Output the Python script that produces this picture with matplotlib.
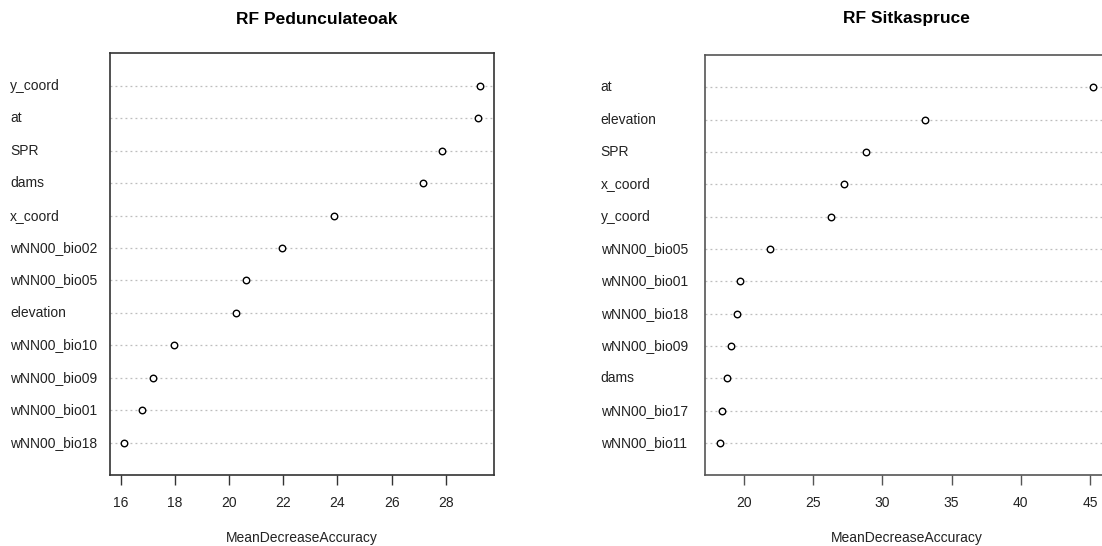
import matplotlib
matplotlib.use("Agg")
import matplotlib.pyplot as plt
from matplotlib.transforms import blended_transform_factory

plt.rcParams['font.family'] = ['Liberation Sans', 'DejaVu Sans']

# Left panel: RF Pedunculateoak (top to bottom)
oak_labels = ["y_coord", "at", "SPR", "dams", "x_coord", "wNN00_bio02",
              "wNN00_bio05", "elevation", "wNN00_bio10", "wNN00_bio09",
              "wNN00_bio01", "wNN00_bio18"]
oak_values = [29.26, 29.18, 27.85, 27.17, 23.86, 21.96,
              20.63, 20.25, 17.95, 17.19, 16.76, 16.12]
oak_ticks = [16, 18, 20, 22, 24, 26, 28]

# Right panel: RF Sitkaspruce (top to bottom)
sitka_labels = ["at", "elevation", "SPR", "x_coord", "y_coord", "wNN00_bio05",
                "wNN00_bio01", "wNN00_bio18", "wNN00_bio09", "dams",
                "wNN00_bio17", "wNN00_bio11"]
sitka_values = [45.24, 33.09, 28.81, 27.24, 26.28, 21.90,
                19.73, 19.47, 19.03, 18.74, 18.41, 18.24]
sitka_ticks = [20, 25, 30, 35, 40, 45]

xlabel = "MeanDecreaseAccuracy"

W, H = 1102, 546
fig = plt.figure(figsize=(W / 100, H / 100), dpi=100)


def dotchart(rect, labels, values, ticks, title, title_x, label_x, spine_color):
    ax = fig.add_axes(rect)
    n = len(values)
    ys = list(range(n, 0, -1))
    for y in ys:
        ax.axhline(y, color='#bdbdbd', lw=0.9, ls=(0, (1.5, 2.5)), zorder=1)
    ax.scatter(values, ys, s=22, facecolors='white', edgecolors='black',
               linewidths=1.0, zorder=3)
    lo, hi = min(values), max(values)
    pad = (hi - lo) * 0.04
    ax.set_xlim(lo - pad, hi + pad)
    ax.set_ylim(0, n + 1)
    ax.set_yticks([])
    ax.set_xticks(ticks)
    ax.set_xticklabels([str(t) for t in ticks])
    ax.tick_params(axis='x', length=7, width=1.0, color=spine_color,
                   labelsize=10, pad=8, labelcolor='#222222')
    for s in ax.spines.values():
        s.set_color(spine_color)
        s.set_linewidth(1.2)
    ax.set_xlabel(xlabel, fontsize=10, labelpad=15, color='#222222')
    trans = blended_transform_factory(fig.transFigure, ax.transData)
    for y, lab in zip(ys, labels):
        ax.text(label_x / W, y, lab, transform=trans,
                ha='left', va='center', fontsize=10, color='#222222')
    fig.text(title_x / W, 1 - 19 / H, title, ha='center', va='center',
             fontsize=12.5, fontweight='bold')
    return ax


dotchart([110 / W, 1 - 475.2 / H, 384 / W, 421.9 / H], oak_labels, oak_values,
         oak_ticks, "RF Pedunculateoak", 317, 10, '#333333')
dotchart([704.7 / W, 1 - 475.3 / H, 403.6 / W, 420.3 / H], sitka_labels, sitka_values,
         sitka_ticks, "RF Sitkaspruce", 906, 600.7, '#555555')

fig.savefig("out.png", dpi=100)
